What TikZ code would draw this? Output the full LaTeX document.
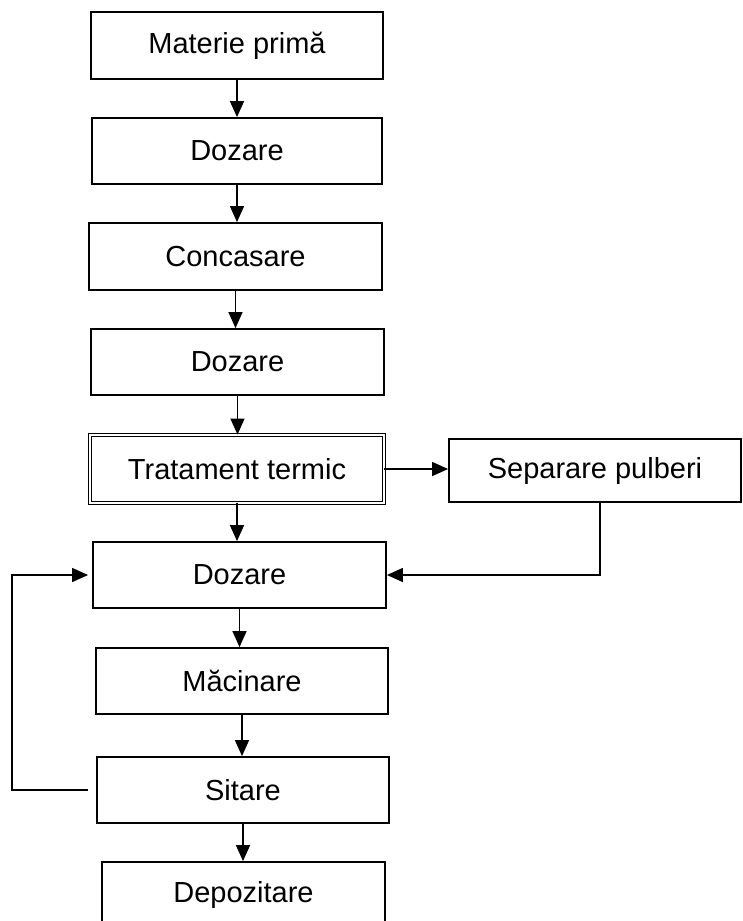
\documentclass[tikz,border=0pt]{standalone}
\usepackage{fontspec}
\setmainfont{Liberation Sans}
\usetikzlibrary{arrows.meta}
\begin{document}
\begin{tikzpicture}[x=1pt,y=-1pt,
  box/.style={draw, line width=1.8pt, inner sep=0pt, minimum width=292pt, minimum height=66pt, font=\fontsize{29}{34}\selectfont},
  arr/.style={line width=1.4pt, -{Triangle[length=16pt,width=14pt]}}]
\clip (0,0) rectangle (743,921);
\node[box, minimum height=67pt] (mat) at (237,45.5){Materie primă};
\node[box, minimum width=290pt] (doz1) at (237,151){Dozare};
\node[box, minimum width=293pt, minimum height=67pt] (conc) at (235.5,256.5){Concasare};
\node[box, minimum width=293pt] (doz2) at (237.5,362){Dozare};
\node[box, double, line width=0.9pt, double distance=1.6pt, minimum width=294pt, minimum height=68pt] (trat) at (237,469){Tratament termic};
\node[box, minimum height=63pt] (sep) at (595,470.5){Separare pulberi};
\node[box, minimum width=293pt] (doz3) at (239.5,575){Dozare};
\node[box] (mac) at (242,681){Măcinare};
\node[box] (sit) at (243,790){Sitare};
\node[box, minimum width=283pt] (dep) at (243.5,895){Depozitare};
\coordinate (fbl) at (12,790);
\draw[arr] (mat.south) -- (mat.south |- doz1.north);
\draw[arr] (doz1.south) -- (doz1.south |- conc.north);
\draw[arr] (conc.south) -- (conc.south |- doz2.north);
\draw[arr] (doz2.south) -- (doz2.south |- trat.north);
\draw[arr] (trat.east) -- (trat.east -| sep.west);
\draw[arr] (trat.south) -- (trat.south |- doz3.north);
\draw[arr] ([xshift=5pt]sep.south) |- (doz3.east);
\draw[arr] (doz3.south) -- (doz3.south |- mac.north);
\draw[arr] (mac.south) -- (mac.south |- sit.north);
\draw[arr] (sit.south) -- (sit.south |- dep.north);
\draw[arr, line width=1.1pt] ([xshift=-8pt]sit.west) -- (fbl) |- ([xshift=-4pt]doz3.west);
\end{tikzpicture}
\end{document}
